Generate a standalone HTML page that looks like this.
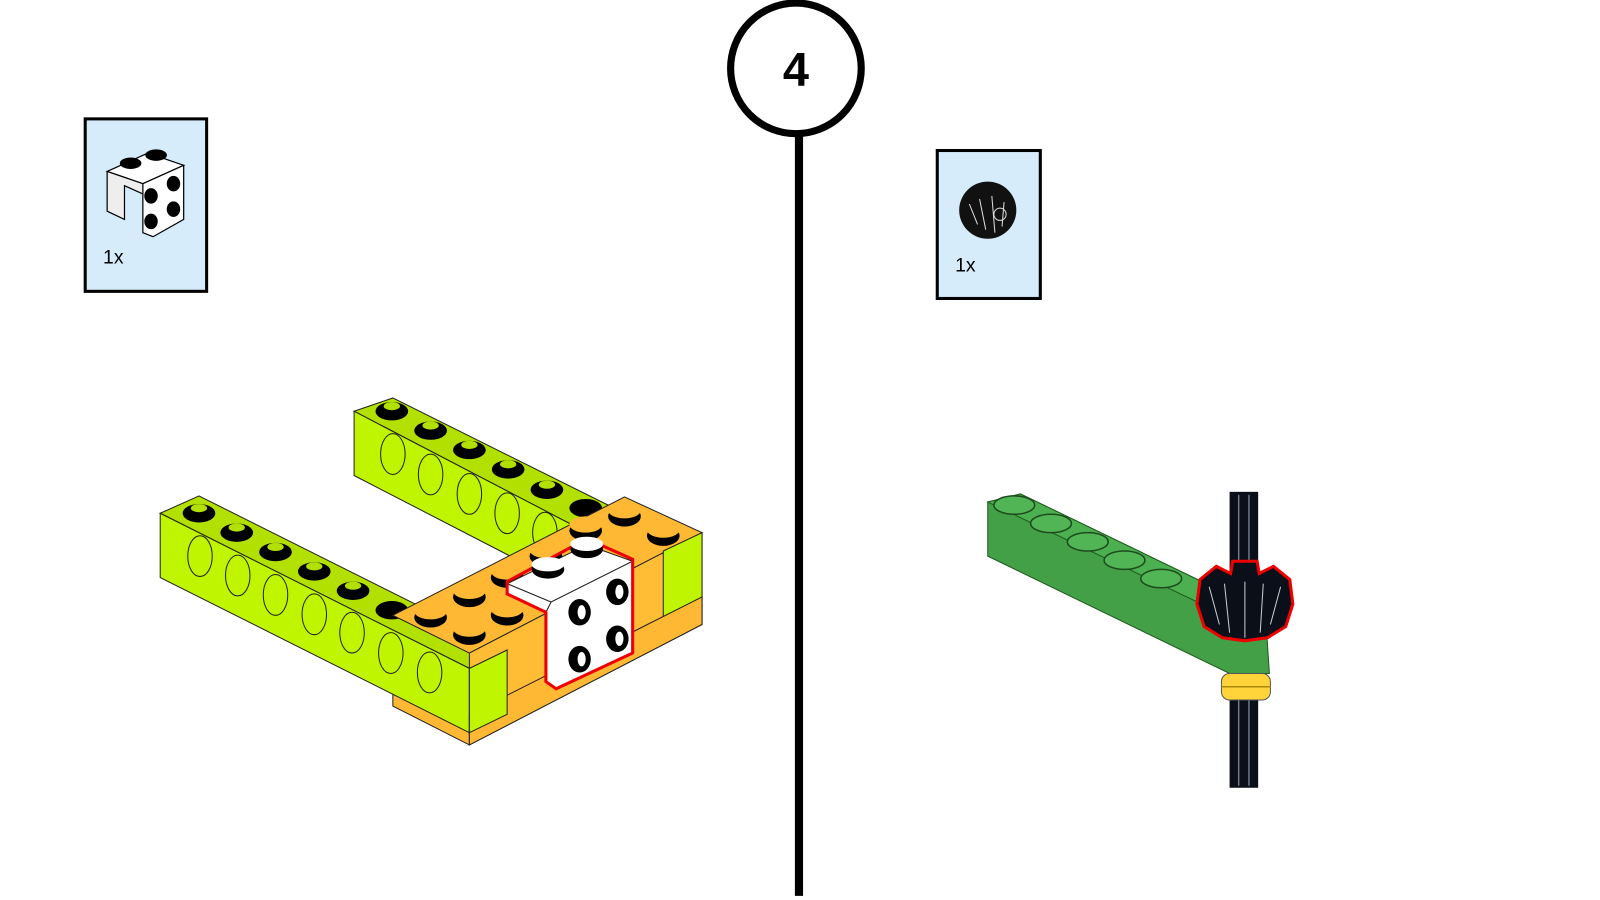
<!DOCTYPE html>
<html><head><meta charset="utf-8"><style>
html,body{margin:0;padding:0;background:#fff;width:1600px;height:900px;overflow:hidden}
svg{display:block}
text{font-family:"Liberation Sans",sans-serif}
</style></head><body>
<svg width="1600" height="900" viewBox="0 0 1568 882" preserveAspectRatio="none">
<line x1="783" y1="125" x2="783" y2="878" stroke="#000" stroke-width="8"/>
<circle cx="780" cy="67" r="64" fill="#fff" stroke="#000" stroke-width="7"/>
<text x="780" y="84" font-size="46" font-weight="bold" text-anchor="middle">4</text>

<rect x="83.5" y="116.5" width="119" height="169" fill="#d6ecfb" stroke="#000" stroke-width="3"/>
<text x="101" y="258" font-size="19">1x</text>
<g stroke="#000" stroke-width="1.2">
<polygon points="105,168 145,150 180,162 140,180" fill="#fff"/>
<polygon points="140,180 180,162 180,215 150,232 140,228" fill="#fff"/>
<polygon points="105,168 140,180 140,190 122,182 122,215 105,207" fill="#eee"/>
<ellipse cx="128" cy="160" rx="10" ry="5" fill="#000"/><ellipse cx="153" cy="152" rx="10" ry="5" fill="#000"/>
<ellipse cx="148" cy="192" rx="6" ry="7" fill="#000"/><ellipse cx="170" cy="180" rx="6" ry="7" fill="#000"/>
<ellipse cx="148" cy="217" rx="6" ry="7" fill="#000"/><ellipse cx="170" cy="205" rx="6" ry="7" fill="#000"/>
</g>
<rect x="918.5" y="147.5" width="101" height="145" fill="#d6ecfb" stroke="#000" stroke-width="3"/>
<text x="936" y="266" font-size="19">1x</text>
<circle cx="968" cy="206" r="28" fill="#111"/>
<g stroke="#ddd" stroke-width="1" fill="none"><path d="M950,200 L958,220 M960,195 L966,225 M972,192 L975,228 M984,198 L982,222"/><circle cx="980" cy="210" r="6"/></g>

<!-- back green beam -->
<g stroke="#222" stroke-width="1">
<polygon points="347,403 385,390 600,497 562,515" fill="#b2e000"/>
<polygon points="347,403 562,515 562,577 347,466" fill="#bff500"/>
</g>
<g fill="#bff500" stroke="#222" stroke-width="1">
<ellipse cx="385" cy="445" rx="12" ry="20"/><ellipse cx="422" cy="465" rx="12" ry="20"/><ellipse cx="460" cy="484" rx="12" ry="20"/><ellipse cx="497" cy="503" rx="12" ry="20"/><ellipse cx="534" cy="522" rx="12" ry="20"/>
</g>
<g fill="#000"><ellipse cx="384" cy="403" rx="16" ry="9"/><ellipse cx="422" cy="422" rx="16" ry="9"/><ellipse cx="460" cy="441" rx="16" ry="9"/><ellipse cx="498" cy="460" rx="16" ry="9"/><ellipse cx="536" cy="480" rx="16" ry="9"/><ellipse cx="574" cy="498" rx="16" ry="9"/></g>
<g fill="#b2e000"><ellipse cx="384" cy="398" rx="8" ry="4"/><ellipse cx="422" cy="417" rx="8" ry="4"/><ellipse cx="460" cy="436" rx="8" ry="4"/><ellipse cx="498" cy="455" rx="8" ry="4"/><ellipse cx="536" cy="475" rx="8" ry="4"/></g>

<!-- orange block left face -->
<polygon points="385,603 460,640 460,730 385,692" fill="#ffb833" stroke="#222"/>

<!-- front green beam -->
<g stroke="#222" stroke-width="1">
<polygon points="157,503 195,486 497,637 460,655" fill="#b2e000"/>
<polygon points="157,503 460,655 460,718 157,566" fill="#bff500"/>
</g>
<g fill="#bff500" stroke="#222" stroke-width="1">
<ellipse cx="196" cy="545" rx="12" ry="20"/><ellipse cx="233" cy="564" rx="12" ry="20"/><ellipse cx="270" cy="583" rx="12" ry="20"/><ellipse cx="308" cy="602" rx="12" ry="20"/><ellipse cx="345" cy="620" rx="12" ry="20"/><ellipse cx="383" cy="640" rx="12" ry="20"/><ellipse cx="421" cy="659" rx="12" ry="20"/>
</g>
<g fill="#000"><ellipse cx="195" cy="503" rx="16" ry="9"/><ellipse cx="232" cy="522" rx="16" ry="9"/><ellipse cx="270" cy="541" rx="16" ry="9"/><ellipse cx="308" cy="560" rx="16" ry="9"/><ellipse cx="346" cy="579" rx="16" ry="9"/><ellipse cx="384" cy="598" rx="16" ry="9"/></g>
<g fill="#b2e000"><ellipse cx="195" cy="498" rx="8" ry="4"/><ellipse cx="232" cy="517" rx="8" ry="4"/><ellipse cx="270" cy="536" rx="8" ry="4"/><ellipse cx="308" cy="555" rx="8" ry="4"/><ellipse cx="346" cy="574" rx="8" ry="4"/></g>

<!-- orange block top & front -->
<g stroke="#222" stroke-width="1">
<polygon points="385,603 612,487 688,522 460,640" fill="#ffb833"/>
<polygon points="460,640 688,522 688,612 460,730" fill="#ffbd35"/>
<polygon points="650,540 688,522 688,612 650,630" fill="#bff500"/>
<polygon points="460,700 688,585 688,612 460,730" fill="#ffb833"/>
<polygon points="460,655 497,637 497,700 460,718" fill="#bff500"/>
</g>
<g fill="#000"><ellipse cx="422" cy="605" rx="16" ry="10"/><ellipse cx="460" cy="585" rx="16" ry="10"/><ellipse cx="497" cy="566" rx="16" ry="10"/><ellipse cx="535" cy="545" rx="16" ry="10"/><ellipse cx="612" cy="506" rx="16" ry="10"/><ellipse cx="650" cy="525" rx="16" ry="10"/><ellipse cx="460" cy="622" rx="16" ry="10"/><ellipse cx="497" cy="603" rx="16" ry="10"/><ellipse cx="574" cy="520" rx="16" ry="10"/></g>
<g fill="#ffb833"><ellipse cx="422" cy="599" rx="16" ry="8"/><ellipse cx="460" cy="579" rx="16" ry="8"/><ellipse cx="497" cy="560" rx="16" ry="8"/><ellipse cx="535" cy="539" rx="16" ry="8"/><ellipse cx="612" cy="500" rx="16" ry="8"/><ellipse cx="650" cy="519" rx="16" ry="8"/><ellipse cx="460" cy="616" rx="16" ry="8"/><ellipse cx="497" cy="597" rx="16" ry="8"/><ellipse cx="574" cy="514" rx="16" ry="8"/></g>

<!-- white bracket -->
<g stroke="#222" stroke-width="1">
<polygon points="497,572 575,534 620,550 540,590" fill="#fff"/>
<polygon points="540,590 620,550 620,640 545,675 535,668 535,600" fill="#fff"/>
<polygon points="497,572 540,590 535,600 497,582" fill="#fff"/>
</g>
<path d="M497,570 L575,528 L620,548 L620,640 L545,675 L535,668 L535,600 L497,582 Z" fill="none" stroke="#e00" stroke-width="3"/>
<g fill="#000"><ellipse cx="537" cy="558" rx="16" ry="9"/><ellipse cx="575" cy="538" rx="16" ry="9"/>
<ellipse cx="568" cy="600" rx="11" ry="13"/><ellipse cx="605" cy="580" rx="11" ry="13"/><ellipse cx="568" cy="646" rx="11" ry="13"/><ellipse cx="605" cy="626" rx="11" ry="13"/></g>
<g fill="#fff"><ellipse cx="537" cy="553" rx="16" ry="7"/><ellipse cx="575" cy="533" rx="16" ry="7"/>
<ellipse cx="570" cy="600" rx="4" ry="7"/><ellipse cx="607" cy="580" rx="4" ry="7"/><ellipse cx="570" cy="646" rx="4" ry="7"/><ellipse cx="607" cy="626" rx="4" ry="7"/></g>

<!-- right assembly -->
<rect x="1205" y="482" width="28" height="290" fill="#0a0f1a"/>
<g stroke="#9ab" stroke-width="1"><line x1="1214" y1="485" x2="1214" y2="770"/><line x1="1224" y1="485" x2="1224" y2="770"/></g>
<g stroke="#1e5a1e" stroke-width="1">
<polygon points="968,492 1000,484 1240,600 1244,660 1205,660 968,545" fill="#43a047"/>
<polygon points="968,492 1000,484 1240,600 1205,605" fill="#4caf50"/>
</g>
<g fill="#52b555" stroke="#1e4a1e" stroke-width="1.5"><ellipse cx="994" cy="495" rx="20" ry="9"/><ellipse cx="1030" cy="513" rx="20" ry="9"/><ellipse cx="1066" cy="531" rx="20" ry="9"/><ellipse cx="1102" cy="549" rx="20" ry="9"/><ellipse cx="1138" cy="567" rx="20" ry="9"/></g>
<rect x="1197" y="660" width="48" height="26" rx="8" fill="#ffd43b" stroke="#555"/>
<line x1="1197" y1="673" x2="1245" y2="673" stroke="#a80" stroke-width="1.5"/>
<path d="M1176,568 L1192,555 L1206,562 L1208,550 L1232,550 L1234,562 L1248,555 L1264,568 L1267,592 L1260,614 L1242,625 L1220,628 L1198,625 L1180,614 L1173,592 Z" fill="#0a0f1a" stroke="#e00" stroke-width="3"/>
<g stroke="#ccc" stroke-width="1" fill="none"><path d="M1185,575 L1195,612 M1200,572 L1205,620 M1220,570 L1220,625 M1238,572 L1235,620 M1255,575 L1245,612"/></g>
</svg>
</body></html>
